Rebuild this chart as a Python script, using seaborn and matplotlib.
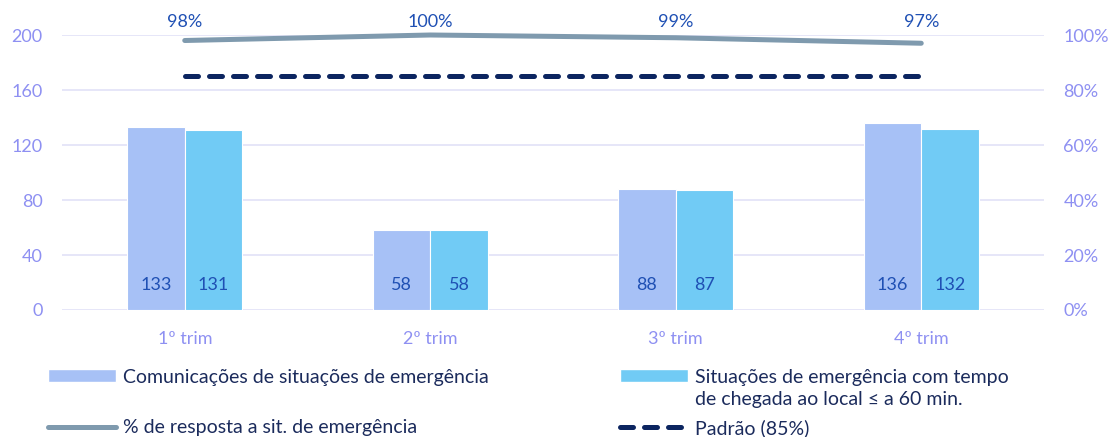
import numpy as np
import pandas as pd
import matplotlib
matplotlib.use("Agg")
import matplotlib.pyplot as plt
import matplotlib.transforms as mtransforms
from matplotlib.patches import Patch
from matplotlib.lines import Line2D
import seaborn as sns

# dados
trimestres = ["1º trim", "2º trim", "3º trim", "4º trim"]
comunicacoes = [133, 58, 88, 136]
situacoes_60min = [131, 58, 87, 132]
pct_resposta = [0.98, 1.00, 0.99, 0.97]
padrao = [0.85, 0.85, 0.85, 0.85]

lbl_com = "Comunicações de situações de emergência"
lbl_sit = ["Situações de emergência com tempo", "de chegada ao local ≤ a 60 min."]
lbl_pct = "% de resposta a sit. de emergência"
lbl_pad = "Padrão (85%)"

c_com = "#a7c1f6"
c_sit = "#71cbf5"
c_pct = "#7f9aae"
c_pad = "#0c2560"
c_tick = "#8e90f2"
c_val = "#1f50b4"
c_leg = "#1b2b5c"
c_grid = "#e1e1f7"

sns.set_theme(style="white")
plt.rcParams["font.family"] = ["Lato", "DejaVu Sans"]

df = pd.DataFrame({
    "trim": trimestres * 2,
    "valor": comunicacoes + situacoes_60min,
    "serie": [lbl_com] * 4 + [" ".join(lbl_sit)] * 4,
})

fig = plt.figure(figsize=(11.11, 4.37), dpi=100)
ax = fig.add_axes([62 / 1111, 1 - 310 / 437, (1044 - 62) / 1111, 275 / 437])

sns.barplot(data=df, x="trim", y="valor", hue="serie", palette=[c_com, c_sit],
            saturation=1, width=0.47, ax=ax, legend=False,
            edgecolor="white", linewidth=0.8)
ax.set_ylim(0, 200)
ax.set_yticks(range(0, 201, 40))
ax.set_xlabel("")
ax.set_ylabel("")
ax.grid(axis="y", color=c_grid, linewidth=1.2)
ax.set_axisbelow(True)
for s in ax.spines.values():
    s.set_visible(False)
ax.tick_params(axis="y", length=0, pad=14, labelsize=13, labelcolor=c_tick)
ax.tick_params(axis="x", length=0, pad=15, labelsize=13, labelcolor=c_tick)

# rótulos das barras
tr_bar = mtransforms.blended_transform_factory(ax.transData, ax.transAxes)
valores = comunicacoes + situacoes_60min
for p, v in zip(ax.patches, valores):
    ax.text(p.get_x() + p.get_width() / 2, 0.09, f"{v}", transform=tr_bar,
            ha="center", va="center", fontsize=13, color=c_val)

# eixo secundário
ax2 = ax.twinx()
ax2.set_ylim(0, 1)
ax2.set_yticks(np.arange(0, 1.01, 0.2))
ax2.set_yticklabels([f"{int(round(t * 100))}%" for t in np.arange(0, 1.01, 0.2)])
ax2.tick_params(axis="y", length=0, pad=14, labelsize=13, labelcolor=c_tick)
for s in ax2.spines.values():
    s.set_visible(False)
ax2.grid(False)

xs = np.arange(len(trimestres))
sns.lineplot(x=xs, y=pct_resposta, ax=ax2, color=c_pct, linewidth=3.6,
             solid_capstyle="round", clip_on=False)
sns.lineplot(x=xs, y=padrao, ax=ax2, color=c_pad, linewidth=3.6,
             dash_capstyle="round", clip_on=False)
ax2.lines[1].set_linestyle((0, (2.6, 2.2)))
ax2.set_ylabel("")

tr_pct = mtransforms.blended_transform_factory(ax2.transData, ax2.transAxes)
for x, v in zip(xs, pct_resposta):
    ax2.text(x, 1.047, f"{int(round(v * 100))}%", transform=tr_pct,
             ha="center", va="center", fontsize=13, color=c_val)

ax.set_xlim(-0.5, len(trimestres) - 0.5)

# legenda (uma entrada por caixa para alinhar como no original)
def entrada(handle, label, x, y):
    return fig.legend([handle], [label], loc="center left",
                      bbox_to_anchor=(x / 1111, 1 - y / 437),
                      frameon=False, fontsize=14, handlelength=3.5, handleheight=0.62,
                      handletextpad=0.36, borderpad=0, borderaxespad=0, labelcolor=c_leg)

entrada(Patch(facecolor=c_com), lbl_com, 48, 377)
leg_sit = entrada(Patch(facecolor=c_sit), lbl_sit[0], 620, 377)
entrada(Line2D([], [], color=c_pct, linewidth=3.6, solid_capstyle="round"), lbl_pct, 48, 428)
entrada(Line2D([], [], color=c_pad, linewidth=3.6, linestyle=(0, (2.6, 2.2)),
               dash_capstyle="round"), lbl_pad, 620, 428)

# segunda linha do rótulo da série 2, alinhada com o texto da legenda
fig.canvas.draw()
bb = leg_sit.get_texts()[0].get_window_extent()
fig.text(bb.x0 / 1111, 1 - 400 / 437, lbl_sit[1], ha="left", va="center",
         fontsize=14, color=c_leg)

fig.savefig("out.png", dpi=100)
